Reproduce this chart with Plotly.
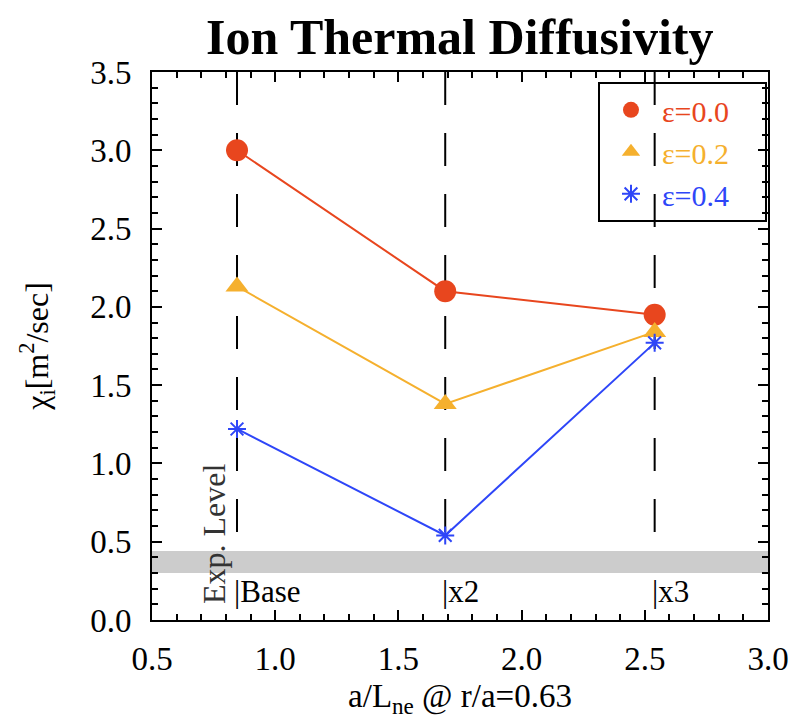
import plotly.graph_objects as go

x_vals = [0.845, 1.69, 2.54]
eps00 = [3.00, 2.10, 1.95]
eps02 = [2.13, 1.38, 1.84]
eps04 = [1.22, 0.54, 1.77]
series_names = ["ε=0.0", "ε=0.2", "ε=0.4"]
case_labels = ["|Base", "|x2", "|x3"]
exp_band = [0.30, 0.44]

red = "#E8461E"
orange = "#F5B02E"
blue = "#2E46F8"
colors = [red, orange, blue]
symbols = ["circle", "triangle-up", "asterisk-open"]
sizes = [22, 20, 15]
FONT = "Liberation Serif, Times New Roman, serif"

fig = go.Figure()
for yv, nm, col, sym, sz in zip([eps00, eps02, eps04], series_names, colors, symbols, sizes):
    fig.add_trace(go.Scatter(x=x_vals, y=yv, mode="lines", showlegend=False,
                             line=dict(color=col, width=2), hoverinfo="skip"))
    fig.add_trace(go.Scatter(x=x_vals, y=yv, mode="markers",
                             name=f"<span style='color:{col}'>{nm}</span>&nbsp;&nbsp;&nbsp;&nbsp;",
                             marker=dict(symbol=sym, size=sz, color=col,
                                         line=dict(color=col, width=2 if sym == "asterisk-open" else 0))))

shapes = []
for xv in x_vals:
    shapes.append(dict(type="line", xref="x", yref="y", x0=xv, x1=xv, y0=3.5, y1=exp_band[1],
                       line=dict(color="black", width=2, dash="33px,28px"), layer="below"))
shapes.append(dict(type="rect", xref="paper", yref="y", x0=0, x1=1, y0=exp_band[0], y1=exp_band[1],
                   fillcolor="#CCCCCC", line=dict(width=0), layer="below"))
fig.update_layout(shapes=shapes)

for xv, lab in zip(x_vals, case_labels):
    fig.add_annotation(x=xv, y=0.18, xref="x", yref="y", text=lab, showarrow=False,
                       xanchor="left", yanchor="middle", xshift=-5,
                       font=dict(family=FONT, size=31, color="black"))
fig.add_annotation(x=0.752, y=0.55, xref="x", yref="y", text="Exp. Level", showarrow=False,
                   textangle=-90, font=dict(family=FONT, size=32, color="#333333"))

axis_common = dict(showline=True, linecolor="black", linewidth=2, mirror="ticks",
                   ticks="inside", ticklen=10, tickwidth=2, tickcolor="black",
                   showgrid=False, zeroline=False, automargin=False,
                   tickfont=dict(family=FONT, size=33, color="black"))

fig.update_xaxes(range=[0.5, 3.0], dtick=0.5, tickformat=".1f", ticklabelstandoff=8,
                 minor=dict(ticks="inside", dtick=0.1, ticklen=6, tickwidth=1.5, tickcolor="black"),
                 title=dict(text="a/L<sub>ne</sub> @ r/a=0.63", font=dict(family=FONT, size=33, color="black"),
                            standoff=8),
                 **axis_common)
fig.update_yaxes(range=[0.0, 3.5], dtick=0.5, tickformat=".1f", ticklabelstandoff=12,
                 minor=dict(ticks="inside", dtick=0.1, ticklen=6, tickwidth=1.5, tickcolor="black"),
                 title=dict(text="χ<sub>i</sub>[m<sup>2</sup>/sec]", font=dict(family=FONT, size=32, color="black"),
                            standoff=32),
                 **axis_common)

fig.update_layout(
    width=790, height=727,
    margin=dict(l=152, r=22, t=72, b=107),
    paper_bgcolor="white", plot_bgcolor="white",
    title=dict(text="<b>Ion Thermal Diffusivity</b>", x=0.582, xanchor="center", y=0.95, yanchor="middle",
               font=dict(family=FONT, size=50, color="black")),
    legend=dict(x=0.724, y=0.982, xanchor="left", yanchor="top",
                bgcolor="rgba(0,0,0,0)", bordercolor="black", borderwidth=2,
                font=dict(family=FONT, size=30), itemwidth=52),
    showlegend=True,
)

fig.write_html("out.html")
